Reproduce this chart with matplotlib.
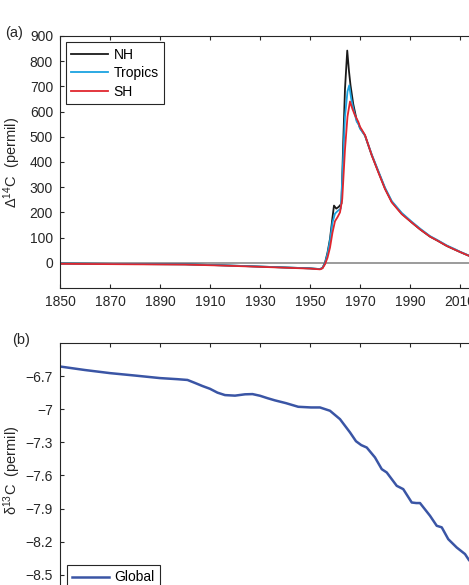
import matplotlib
matplotlib.use("Agg")
import matplotlib.pyplot as plt

plt.rcParams["font.family"] = ["Liberation Sans", "DejaVu Sans"]
plt.rcParams["font.size"] = 10
plt.rcParams["axes.unicode_minus"] = True
plt.rcParams["mathtext.fontset"] = "custom"
plt.rcParams["mathtext.rm"] = "Liberation Sans"
plt.rcParams["mathtext.it"] = "Liberation Sans"

# (a) radiocarbon, permil
years_nh = [1850, 1880, 1900, 1915, 1930, 1950, 1954, 1955, 1956, 1957, 1958, 1959, 1959.6, 1960.5,
            1961.5, 1962.6, 1963.3, 1964, 1964.9, 1965.6, 1966.2, 1967.3, 1968.7, 1969.5, 1970, 1972,
            1974.7, 1977.3, 1980, 1982.7, 1986.7, 1990.7, 1994, 1998, 2001, 2004.7, 2008, 2010, 2013.3,
            2016, 2020]
nh = [-3, -5, -6, -10, -15, -22, -25, -20, 0, 40, 95, 180, 227, 215,
      222, 235, 480, 690, 842, 760, 705, 630, 565, 550, 535, 505,
      427, 362, 295, 242, 195, 160, 133, 104, 88, 67, 52, 43, 29,
      19, 8]

years_tr = [1850, 1880, 1900, 1915, 1930, 1950, 1954, 1955, 1956, 1957, 1958, 1959, 1960, 1961,
            1962.3, 1963, 1964, 1965, 1965.7, 1966.5, 1967.5, 1968.7, 1969.5, 1970, 1972,
            1974.7, 1977.3, 1980, 1982.7, 1986.7, 1990.7, 1994, 1998, 2001, 2004.7, 2008, 2010, 2013.3,
            2016, 2020]
tropics = [-3, -5, -6, -10, -15, -22, -25, -20, -2, 35, 88, 160, 195, 205,
           215, 350, 580, 680, 704, 650, 605, 560, 548, 533, 505,
           430, 365, 298, 245, 198, 163, 136, 106, 90, 69, 54, 44, 30,
           20, 9]

years_sh = [1850, 1880, 1900, 1915, 1930, 1950, 1954, 1955, 1956, 1957, 1958, 1959, 1960, 1961,
            1962, 1962.9, 1964, 1965, 1966, 1967, 1968, 1969.3, 1970, 1972,
            1974.7, 1977.3, 1980, 1982.7, 1986.7, 1990.7, 1994, 1998, 2001, 2004.7, 2008, 2010, 2013.3,
            2016, 2020]
sh = [-4, -6, -7, -11, -16, -23, -26, -22, -6, 20, 60, 120, 165, 181,
      200, 253, 450, 580, 640, 610, 585, 560, 540, 507,
      427, 360, 293, 240, 193, 160, 133, 104, 88, 67, 52, 43, 29,
      19, 8]

# (b) delta 13C, permil
years_c13 = [1850, 1860, 1870, 1880, 1890, 1897, 1901, 1904, 1907, 1910, 1913, 1916, 1920, 1924,
             1927, 1930, 1933, 1936, 1940.4, 1945.3, 1950.4, 1954, 1958, 1962, 1966, 1968.4, 1970.5,
             1972.7, 1976, 1978.7, 1980.7, 1984.7, 1987.3, 1990.7, 1992.5, 1994, 1998, 2000.7, 2002.7,
             2005.3, 2008.7, 2012, 2013.6, 2016, 2020]
c13 = [-6.613, -6.645, -6.673, -6.695, -6.718, -6.728, -6.735, -6.762, -6.79, -6.815, -6.85, -6.872,
       -6.877, -6.865, -6.863, -6.878, -6.9, -6.92, -6.945, -6.978, -6.984, -6.984, -7.014, -7.09,
       -7.21, -7.29, -7.325, -7.347, -7.437, -7.543, -7.573, -7.694, -7.724, -7.845, -7.85, -7.85,
       -7.965, -8.056, -8.07, -8.177, -8.253, -8.312, -8.367, -8.42, -8.5]

xticks = [1850, 1870, 1890, 1910, 1930, 1950, 1970, 1990, 2010]
yticks_a = [0, 100, 200, 300, 400, 500, 600, 700, 800, 900]
yticks_b = [-6.7, -7, -7.3, -7.6, -7.9, -8.2, -8.5]
yticklabels_b = ["\u22126.7", "\u22127", "\u22127.3", "\u22127.6", "\u22127.9", "\u22128.2", "\u22128.5"]

ink = "#262626"

fig = plt.figure(figsize=(4.69, 5.85), dpi=100)
ax1 = fig.add_axes([0.1279, 0.5077, 0.9062, 0.4308])
ax2 = fig.add_axes([0.1279, -0.0203, 0.9062, 0.434])

for ax in (ax1, ax2):
    for s in ax.spines.values():
        s.set_color(ink)
        s.set_linewidth(0.8)
    ax.tick_params(direction="in", length=3, width=0.8, top=True, right=True,
                   colors=ink, labelsize=10, pad=5)
    ax.set_xlim(1850, 2020)
    ax.set_xticks(xticks)

ax1.axhline(0, color="#8a8a8a", lw=1.2, zorder=1)
ax1.plot(years_nh, nh, color="#1a1a1a", lw=1.3, label="NH")
ax1.plot(years_tr, tropics, color="#1aa3e0", lw=1.3, label="Tropics")
ax1.plot(years_sh, sh, color="#e0262e", lw=1.3, label="SH")
ax1.set_ylim(-100, 900)
ax1.set_yticks(yticks_a)
ax1.set_ylabel("\u0394$^{14}$C  (permil)", color=ink, fontsize=10.5)
ax1.yaxis.set_label_coords(-0.086, 0.5)
leg1 = ax1.legend(loc="upper left", bbox_to_anchor=(0.014, 0.976), fancybox=False,
                  edgecolor=ink, framealpha=1, handlelength=2.66, handletextpad=0.36,
                  labelspacing=0.33, borderpad=0.4, borderaxespad=0, fontsize=10)
leg1.get_frame().set_linewidth(0.8)

ax2.plot(years_c13, c13, color="#3a55a5", lw=1.8, label="Global")
ax2.set_ylim(-8.7, -6.4)
ax2.set_yticks(yticks_b)
ax2.set_yticklabels(yticklabels_b)
ax2.tick_params(labelbottom=False)
ax2.set_ylabel("\u03b4$^{13}$C  (permil)", color=ink, fontsize=10.5)
ax2.yaxis.set_label_coords(-0.086, 0.5)
leg2 = ax2.legend(loc="lower left", bbox_to_anchor=(0.016, 0.027), fancybox=False,
                  edgecolor=ink, framealpha=1, handlelength=2.66, handletextpad=0.36,
                  borderpad=0.4, borderaxespad=0, fontsize=10)
leg2.get_frame().set_linewidth(0.8)

fig.text(5 / 469, 1 - 33 / 585, "(a)", color=ink, fontsize=10.5, va="center")
fig.text(12 / 469, 1 - 340 / 585, "(b)", color=ink, fontsize=10.5, va="center")

fig.savefig("out.png", dpi=100)
